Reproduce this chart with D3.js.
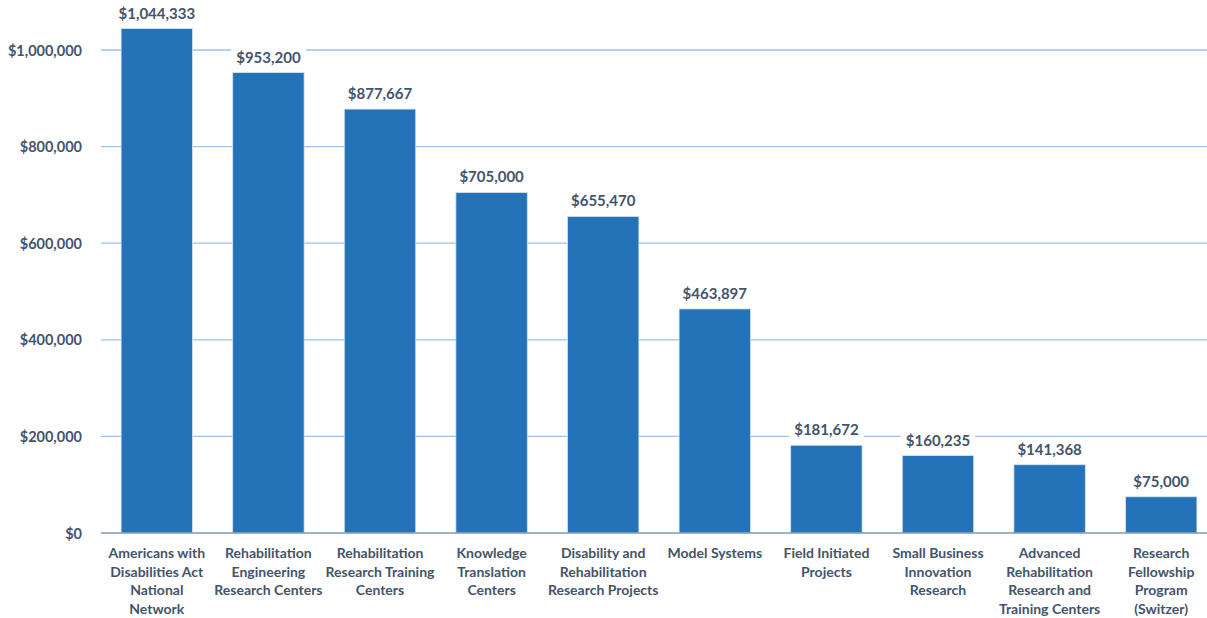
<!DOCTYPE html>
<html><head><meta charset="utf-8">
<script src="https://cdn.jsdelivr.net/npm/d3@7"></script>
<style>
html,body{margin:0;padding:0;background:#fff;}
text{font-family:Lato,"Open Sans",sans-serif;font-weight:700;fill:#44546A;}
</style></head>
<body>
<svg id="chart" width="1207" height="618"></svg>
<script>
const categories = [
  ["Americans with","Disabilities Act","National","Network"],
  ["Rehabilitation","Engineering","Research Centers"],
  ["Rehabilitation","Research Training","Centers"],
  ["Knowledge","Translation","Centers"],
  ["Disability and","Rehabilitation","Research Projects"],
  ["Model Systems"],
  ["Field Initiated","Projects"],
  ["Small Business","Innovation","Research"],
  ["Advanced","Rehabilitation","Research and","Training Centers"],
  ["Research","Fellowship","Program","(Switzer)"]
];
const values = [1044333, 953200, 877667, 705000, 655470, 463897, 181672, 160235, 141368, 75000];
const yTicks = [0, 200000, 400000, 600000, 800000, 1000000];

const svg = d3.select("#chart");
const W = 1207;
const left = 101;
const x = d3.scaleBand().domain(d3.range(values.length)).range([left, 1217]).paddingInner(0.36).paddingOuter(0.18);
const y = d3.scaleLinear().domain([0, 1000000]).range([533, 50]);
const fmt = v => "$" + d3.format(",")(v);

// gridlines
svg.append("g").selectAll("line").data(yTicks.filter(d=>d>0)).join("line")
  .attr("x1", left).attr("x2", W).attr("y1", d=>y(d)).attr("y2", d=>y(d))
  .attr("stroke", "#9DC3E6").attr("stroke-width", 1.3);

// y-axis labels
const yAxis = d3.axisLeft(y).tickValues(yTicks).tickFormat(fmt).tickSize(0).tickPadding(19);
const ya = svg.append("g").attr("transform", `translate(${left},0)`).call(yAxis);
ya.select(".domain").remove();
ya.selectAll("text").style("font-size","14.5px").attr("dy","0.35em");

// bars
svg.append("g").selectAll("rect").data(values).join("rect")
  .attr("x", (d,i)=>x(i)).attr("width", x.bandwidth())
  .attr("y", d=>y(d)).attr("height", d=>y(0)-y(d))
  .attr("fill", "#2473B8").attr("stroke", "#D6E4F2").attr("stroke-width", 0.8);

// baseline
svg.append("line").attr("x1", left).attr("x2", W).attr("y1", y(0)).attr("y2", y(0))
  .attr("stroke", "#8497B0").attr("stroke-width", 1.3);

// value labels with white background
const lbl = svg.append("g").selectAll("g").data(values).join("g")
  .attr("transform", (d,i)=>`translate(${x(i)+x.bandwidth()/2},${y(d)-10})`);
lbl.append("text").attr("text-anchor","middle").style("font-size","15px").text(fmt)
  .each(function(){
    const b = this.getBBox();
    d3.select(this.parentNode).insert("rect","text")
      .attr("x", b.x-5).attr("y", b.y-1).attr("width", b.width+10).attr("height", b.height+2)
      .attr("fill","#fff");
  });

// category labels
const cat = svg.append("g").selectAll("text").data(categories).join("text")
  .attr("text-anchor","middle").style("font-size","14px")
  .attr("transform", (d,i)=>`translate(${x(i)+x.bandwidth()/2},558)`);
cat.selectAll("tspan").data(d=>d).join("tspan")
  .attr("x",0).attr("y",(d,j)=>j*18.5).text(d=>d);
</script>
</body></html>
